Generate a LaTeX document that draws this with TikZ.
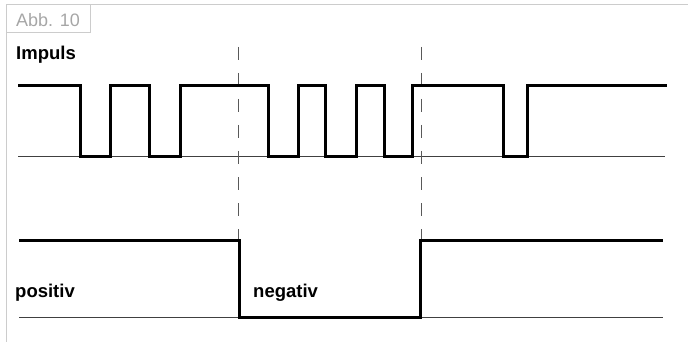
\documentclass[tikz,border=0pt]{standalone}
\usepackage{fontspec}
\setmainfont{Liberation Sans}
\begin{document}
\begin{tikzpicture}[x=1pt,y=-1pt,
  frame/.style={draw=black!20,line width=1pt},
  caption/.style={anchor=base west,inner sep=0pt,text=black!35,font=\fontsize{18}{18}\selectfont},
  label/.style={anchor=base west,inner sep=0pt,font=\bfseries\fontsize{18.5}{18.5}\selectfont},
  signal/.style={line width=3pt,line join=miter,line cap=butt},
  zeroline/.style={draw=black!75,line width=1pt},
  marker/.style={draw=black!65,line width=1pt,dash pattern=on 13pt off 13pt}]
  \useasboundingbox (0,0) rectangle (688,342);

  % frame and figure caption
  \draw[frame] (6,342) -- (6,5) -- (688,5);
  \draw[frame] (6,33) -- (90,33) -- (90,5);
  \node[caption] (abb) at (16,27) {Abb. 10};

  % reference (zero) lines
  \draw[zeroline] (18,157) -- (665,157);
  \draw[zeroline] (19,317.5) -- (663,317.5);

  % dashed markers at the polarity changes
  \draw[marker] (238.5,47) -- (238.5,240);
  \draw[marker] (421,47) -- (421,240);

  % pulse train
  \draw[signal] (18,85.5) -| (80,157) -| (110,85.5) -| (149,157) -| (180,85.5)
     -| (268,157) -| (298,85.5) -| (325,157) -| (356,85.5) -| (384,157)
     -| (412,85.5) -| (503,157) -| (527,85.5) -- (667,85.5);

  % polarity signal
  \draw[signal] (19,240.5) -| (239.5,317.5) -| (420,240.5) -- (663,240.5);

  \node[label] (impuls) at (16,60) {Impuls};
  \node[label] (positiv) at (15,297) {positiv};
  \node[label] (negativ) at (253,297) {negativ};
\end{tikzpicture}
\end{document}
